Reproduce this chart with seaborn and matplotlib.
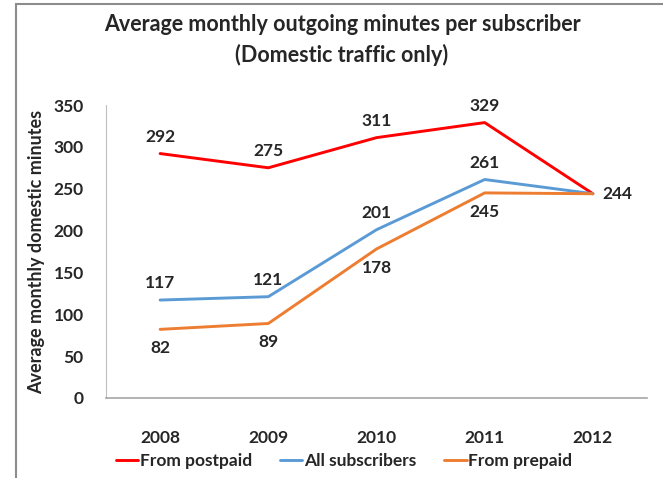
import pandas as pd
import matplotlib.pyplot as plt
import matplotlib.patches as patches
import seaborn as sns

# chart values
years = ['2008', '2009', '2010', '2011', '2012']
postpaid = [292, 275, 311, 329, 244]
all_subs = [117, 121, 201, 261, 244]
prepaid = [82, 89, 178, 245, 244]
series_names = ['From postpaid', 'All subscribers', 'From prepaid']
colors = ['#FF0000', '#5B9BD5', '#ED7D31']

df = pd.DataFrame({
    'year': years * 3,
    'value': postpaid + all_subs + prepaid,
    'series': [s for s in series_names for _ in years],
})

sns.set_style('white')
plt.rcParams['font.family'] = ['Lato', 'DejaVu Sans']

fig = plt.figure(figsize=(6.63, 4.78), dpi=100)
ax = fig.add_axes([106 / 663, 1 - 398 / 478, 541 / 663, 293 / 478])

sns.lineplot(data=df, x='year', y='value', hue='series', palette=colors,
             linewidth=2.1, sort=False, ax=ax)

ax.set_xlim(-0.5, 4.5)
ax.set_ylim(0, 350)
ax.set_yticks(range(0, 351, 50))
ax.set_xlabel('')
ax.set_ylabel('Average monthly domestic minutes', fontsize=13, fontweight='bold', labelpad=6)
ax.tick_params(axis='both', length=0, labelsize=12.5)
ax.tick_params(axis='x', pad=23)
ax.tick_params(axis='y', pad=16)
for lbl in ax.get_xticklabels() + ax.get_yticklabels():
    lbl.set_fontweight('bold')

for side in ['top', 'right']:
    ax.spines[side].set_visible(False)
ax.spines['left'].set_color('#BFBFBF')
ax.spines['bottom'].set_color('#A6A6A6')
ax.spines['bottom'].set_linewidth(1.2)

# data labels
for i in range(4):
    ax.annotate(str(postpaid[i]), (i, postpaid[i]), xytext=(0, 12), textcoords='offset points',
                ha='center', va='center', fontsize=12.5, fontweight='bold')
    ax.annotate(str(all_subs[i]), (i, all_subs[i]), xytext=(0, 12), textcoords='offset points',
                ha='center', va='center', fontsize=12.5, fontweight='bold')
    ax.annotate(str(prepaid[i]), (i, prepaid[i]), xytext=(0, -13.5), textcoords='offset points',
                ha='center', va='center', fontsize=12.5, fontweight='bold')
ax.annotate(str(postpaid[4]), (4, postpaid[4]), xytext=(7, 0), textcoords='offset points',
            ha='left', va='center', fontsize=12.5, fontweight='bold')

fig.text(342 / 663, 1 - 40 / 478, 'Average monthly outgoing minutes per subscriber\n(Domestic traffic only)',
         ha='center', va='center', fontsize=15.5, fontweight='bold', linespacing=1.55)

ax.legend(loc='center', bbox_to_anchor=(0.44, -0.215), ncol=3, frameon=False,
          handlelength=1.3, handletextpad=0.1, columnspacing=1.6,
          prop={'weight': 'bold', 'size': 12.5})

# outer frame of the chart area
fig.patches.append(patches.Rectangle((16 / 663, -0.1), 1.2, 1 - 4 / 478 + 0.1,
                                     transform=fig.transFigure, fill=False,
                                     edgecolor='#8C8C8C', linewidth=1.5))

fig.savefig('out.png', dpi=100)
